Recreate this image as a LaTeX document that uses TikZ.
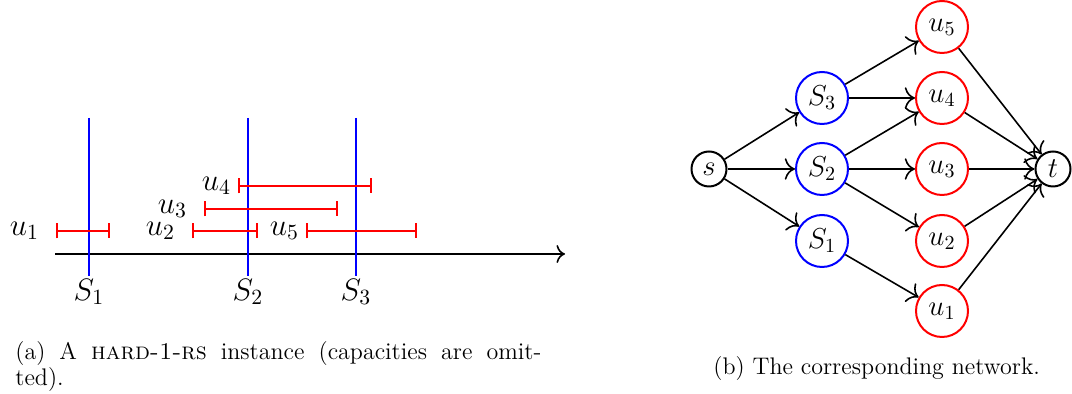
\RequirePackage{fix-cm}
\documentclass[tikz,border=0pt]{standalone}
\usetikzlibrary{arrows.meta,positioning}

\begin{document}
\begin{tikzpicture}[
    x=0.5pt, y=-0.5pt,
    every node/.style={font=\fontsize{12}{11.7}\selectfont},
    lbl/.style={font=\fontsize{15.5}{18}\selectfont},
    interval/.style={{Bar[width=7.5pt]}-{Bar[width=7.5pt]}, thick, red},
    cover/.style={blue, line width=1pt},
    axis/.style={-{To[length=1.5mm]}, thick},
    term/.style={draw, circle, line width=1pt, minimum size=17.5pt, inner sep=0pt, font=\fontsize{14.4}{16}\selectfont},
    setnode/.style={draw=blue, circle, line width=1pt, minimum size=26pt, inner sep=0pt, font=\fontsize{14.4}{16}\selectfont},
    elem/.style={setnode, draw=red},
    flow/.style={-{To[length=1.8mm]}, thick}
]
\useasboundingbox (0,0) rectangle (1072,394);

% (a) instance
\coordinate (start) at (55,254);
\coordinate (end) at (565,254);
\draw[axis] (start) -- (end);
\foreach \name/\x in {1/89, 2/248, 3/356} {
    \coordinate (top\name) at (\x,118);
    \coordinate (bot\name) at (\x,276);
    \draw[cover] (top\name) -- (bot\name);
    \node[lbl, below=-2pt of bot\name] (set\name) {$S_\name$};
}
\foreach \name/\a/\b/\y/\gap in {1/56/110/231/5pt, 2/192/258/231/5pt, 3/204/338/209/5pt, 4/238/372/186/0pt, 5/306/417/231/0pt} {
    \coordinate (ua\name) at (\a,\y);
    \coordinate (ub\name) at (\b,\y);
    \draw[interval] (ua\name) -- (ub\name);
    \node[lbl, left=\gap of ua\name] (lu\name) {$u_\name$};
}
\node[anchor=north west, align=left, inner sep=0pt] (capa) at (15,341)
    {\makebox[263pt][s]{(a) A \textsc{hard-1-rs} instance (capacities are omit-}\\ted).};

% (b) network
\node[term] (s) at (709,169) {$s$};
\node[setnode] (S3) at (822,98) {$S_3$};
\node[setnode] (S2) at (822,169) {$S_2$};
\node[setnode] (S1) at (822,241) {$S_1$};
\node[elem] (u5) at (942,27) {$u_5$};
\node[elem] (u4) at (942,98) {$u_4$};
\node[elem] (u3) at (942,169) {$u_3$};
\node[elem] (u2) at (942,241) {$u_2$};
\node[elem] (u1) at (942,311) {$u_1$};
\node[term] (t) at (1053,169) {$t$};
\foreach \a/\b in {s/S3, s/S2, s/S1, S3/u5, S3/u4, S2/u4, S2/u3, S2/u2, S1/u1, u5/t, u4/t, u3/t, u2/t, u1/t}
    \draw[flow] (\a) -- (\b);
\node[anchor=base west, inner sep=0pt] (capb) at (713,375) {(b) The corresponding network.};
\end{tikzpicture}
\end{document}
